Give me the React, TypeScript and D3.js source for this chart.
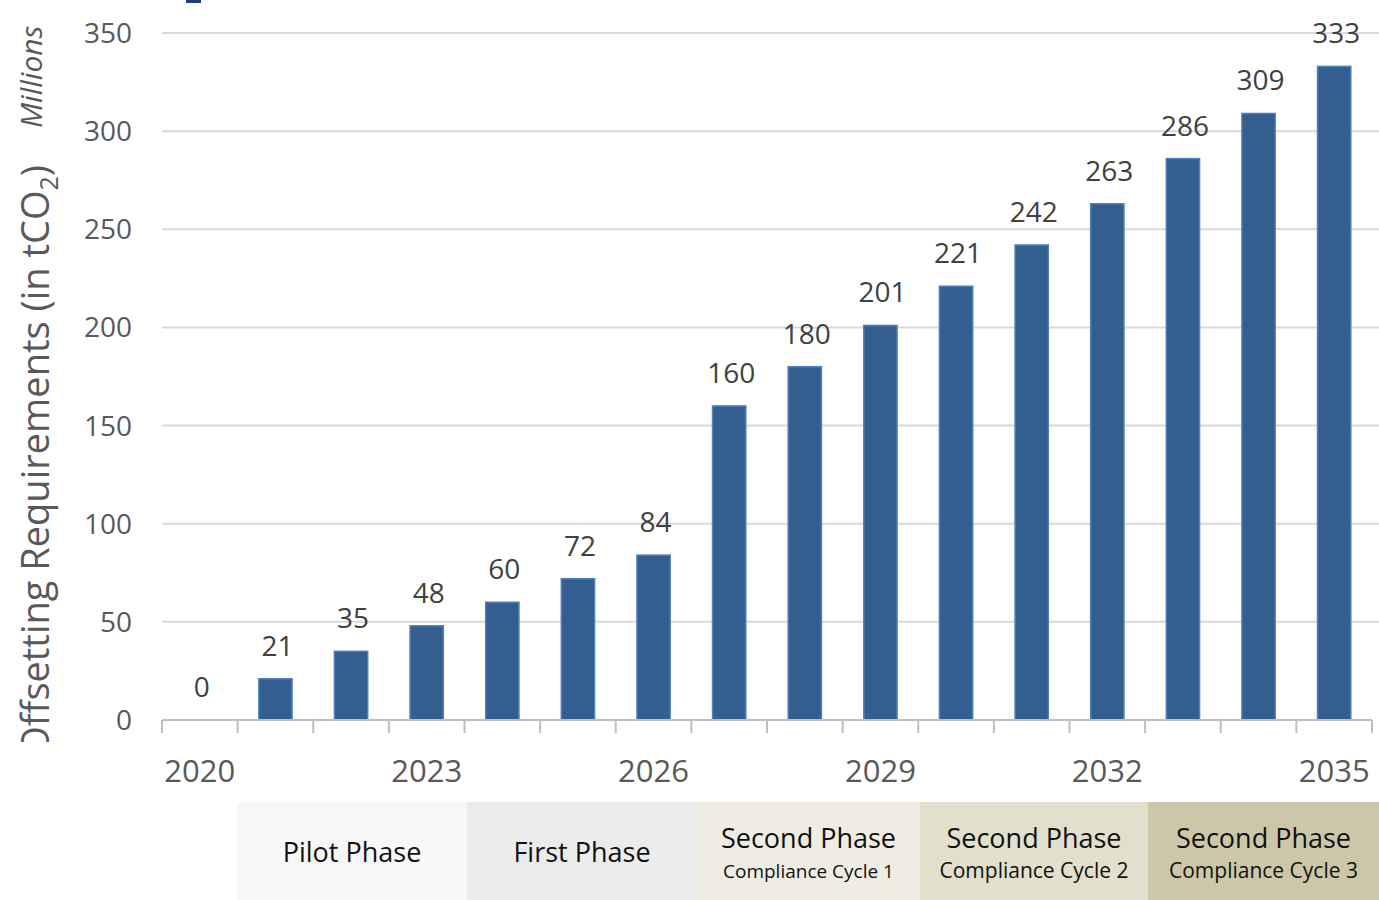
import React from "react";
import * as d3 from "d3";

const years = ["2020","2021","2022","2023","2024","2025","2026","2027","2028","2029","2030","2031","2032","2033","2034","2035"];
const values = [0, 21, 35, 48, 60, 72, 84, 160, 180, 201, 221, 242, 263, 286, 309, 333];
const yTicks = [0, 50, 100, 150, 200, 250, 300, 350];
const xLabelYears = ["2020", "2023", "2026", "2029", "2032", "2035"];
const phaseTitles = ["Pilot Phase", "First Phase", "Second Phase", "Second Phase", "Second Phase"];
const phaseSubtitles = ["", "", "Compliance Cycle 1", "Compliance Cycle 2", "Compliance Cycle 3"];
const phaseStarts = [237, 467, 697, 920, 1148];
const phaseEnds = [467, 697, 920, 1148, 1379];
const phaseColors = ["#f7f7f7", "#ebebeb", "#efece3", "#e2dfcc", "#cdc7aa"];

const W = 1379, H = 900;
const FONT = "'Open Sans', 'Noto Sans', sans-serif";

export default function App() {
  const x = d3.scaleBand<string>().domain(years).range([162, 1372]).paddingInner(0).paddingOuter(0);
  const y = d3.scaleLinear().domain([0, 350]).range([720, 33]);
  const bw = x.bandwidth() * 0.44;
  const edges = years.map((yr) => x(yr) as number).concat([1372]);

  return (
    <svg width={W} height={H} style={{ position: "absolute", left: 0, top: 0, background: "#fff" }} fontFamily={FONT}>
      <defs>
        <clipPath id="titleClip">
          <rect x={0} y={0} width={160} height={742} />
        </clipPath>
      </defs>
      <rect x={0} y={0} width={W} height={H} fill="#fff" />
      <rect x={186} y={0} width={15} height={3} fill="#1f3c7a" />
      {/* gridlines */}
      {yTicks.filter((t) => t > 0).map((t) => (
        <line key={t} x1={162} x2={W} y1={y(t)} y2={y(t)} stroke="#d9d9d9" strokeWidth={2} />
      ))}
      {/* y tick labels */}
      {yTicks.map((t) => (
        <text key={t} x={132} y={y(t) + 10} textAnchor="end" fontSize={28} fill="#595959">{t}</text>
      ))}
      {/* bars */}
      {years.map((yr, i) => (
        <rect key={yr}
          x={(x(yr) as number) + (x.bandwidth() - bw) / 2}
          y={y(values[i])}
          width={bw}
          height={720 - y(values[i])}
          fill="#345e90" stroke="#4f81bd" strokeWidth={1.5} />
      ))}
      {/* value labels */}
      {years.map((yr, i) => (
        <text key={yr} x={(x(yr) as number) + x.bandwidth() / 2 + 2} y={y(values[i]) - 23}
          textAnchor="middle" fontSize={28} fill="#404040">{values[i]}</text>
      ))}
      {/* x axis */}
      <line x1={162} x2={1372} y1={720} y2={720} stroke="#bfbfbf" strokeWidth={2} />
      {edges.map((e, i) => (
        <line key={i} x1={e} x2={e} y1={720} y2={733} stroke="#bfbfbf" strokeWidth={2} />
      ))}
      {xLabelYears.map((yr) => (
        <text key={yr} x={(x(yr) as number) + x.bandwidth() / 2} y={782} textAnchor="middle" fontSize={31} fill="#595959">{yr}</text>
      ))}
      {/* y axis title */}
      <g clipPath="url(#titleClip)">
        <text transform="translate(49,165) rotate(-90)" textAnchor="end" fontSize={38} fill="#595959">
          Offsetting Requirements (in tCO<tspan fontSize={25} dy={9}>2</tspan><tspan dy={-9}>)</tspan>
        </text>
      </g>
      <text transform="translate(42,128) rotate(-90)" textAnchor="start" fontSize={30} fontStyle="italic" fill="#595959">Millions</text>
      {/* phase boxes */}
      {phaseTitles.map((t, i) => {
        const cx = (phaseStarts[i] + phaseEnds[i]) / 2;
        return (
          <g key={i}>
            <rect x={phaseStarts[i]} y={802} width={phaseEnds[i] - phaseStarts[i]} height={H - 802} fill={phaseColors[i]} />
            {phaseSubtitles[i] === "" ? (
              <text x={cx} y={862} textAnchor="middle" fontSize={27} fill="#111">{t}</text>
            ) : (
              <>
                <text x={cx} y={848} textAnchor="middle" fontSize={27} fill="#111">{t}</text>
                <text x={cx} y={878} textAnchor="middle" fontSize={i === 2 ? 19 : 21} fill="#111">{phaseSubtitles[i]}</text>
              </>
            )}
          </g>
        );
      })}
    </svg>
  );
}
